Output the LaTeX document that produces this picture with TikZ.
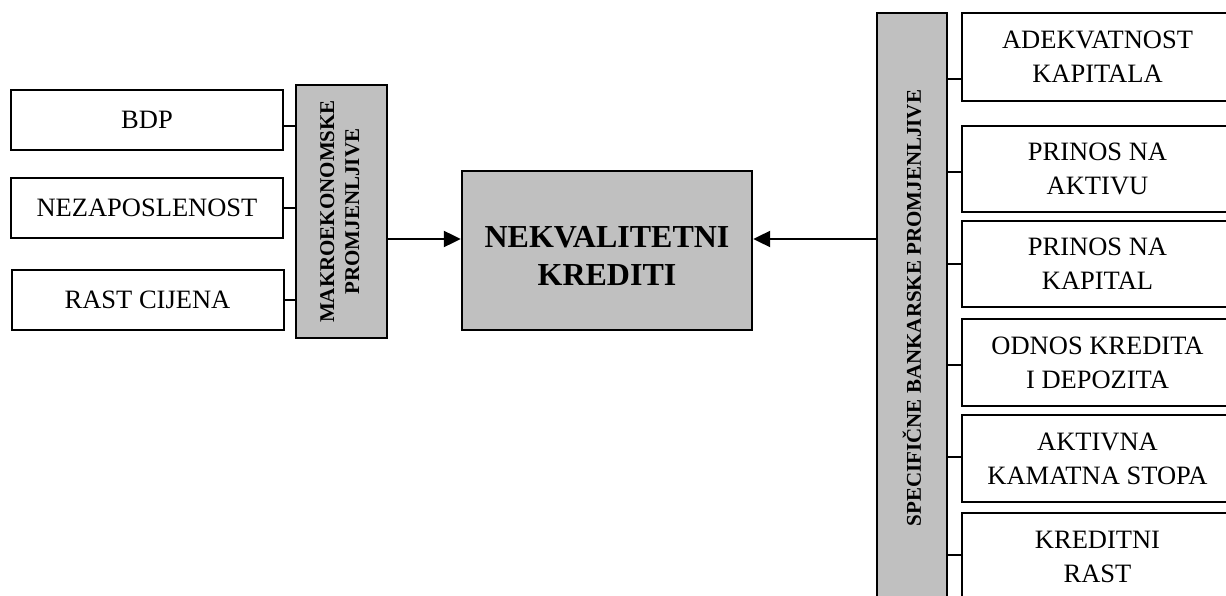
\documentclass[tikz,border=0pt]{standalone}
\usepackage{fontspec}
\setmainfont{Liberation Serif}
\usetikzlibrary{arrows.meta,calc}
\definecolor{boxgray}{HTML}{C0C0C0}
\begin{document}
\begin{tikzpicture}[x=1pt,y=-1pt,
  box/.style={draw=black,line width=2pt,fill=white,align=center,inner sep=0pt,
    font=\fontsize{26.5}{34}\selectfont},
  lbox/.style={box,minimum width=272pt,minimum height=60pt},
  rbox/.style={box,minimum width=271pt,execute at begin node={\rule{0pt}{23.5pt}}},
  graybox/.style={draw=black,line width=2pt,fill=boxgray,inner sep=0pt,align=center},
  stub/.style={line width=2pt},
  arr/.style={line width=2.2pt,-{Triangle[length=17pt,width=16pt]}}]
\useasboundingbox (0,0) rectangle (1226,596);
\clip (0,0) rectangle (1226,596);
\fill[white] (0,0) rectangle (1226,596);

% left boxes
\node[lbox] (bdp) at (147,120) {BDP};
\node[lbox] (nez) at (147,208) {NEZAPOSLENOST};
\node[lbox] (rast) at (147.5,300) {RAST CIJENA};

% macro box
\node[graybox,minimum width=91pt,minimum height=253pt,
  font=\fontsize{21}{25}\selectfont\bfseries] (mac) at (341.5,211.5)
  {\rotatebox{90}{\begin{tabular}{@{}c@{}}MAKROEKONOMSKE\\PROMJENLJIVE\end{tabular}}};

% central box
\node[graybox,line width=2.4pt,minimum width=290pt,minimum height=159pt,
  font=\fontsize{32}{38}\selectfont\bfseries] (cen) at (607,250.5)
  {\rule{0pt}{33pt}NEKVALITETNI\\KREDITI};

% bank box
\node[graybox,minimum width=70pt,minimum height=590pt,
  font=\fontsize{21}{25}\selectfont\bfseries] (bank) at (912,308)
  {\rotatebox{90}{SPECIFIČNE BANKARSKE PROMJENLJIVE}};

% right boxes
\node[rbox,minimum height=88pt] (r1) at (1097.5,57) {ADEKVATNOST\\KAPITALA};
\node[rbox,minimum height=86pt] (r2) at (1097.5,169) {PRINOS NA\\AKTIVU};
\node[rbox,minimum height=86pt] (r3) at (1097.5,264) {PRINOS NA\\KAPITAL};
\node[rbox,minimum height=87pt] (r4) at (1097.5,362.5) {ODNOS KREDITA\\I DEPOZITA};
\node[rbox,minimum height=87pt] (r5) at (1097.5,458.5) {AKTIVNA\\KAMATNA STOPA};
\node[rbox,minimum height=87pt] (r6) at (1097.5,556.5) {KREDITNI\\RAST};

% left stubs
\coordinate (s1) at ($(bdp.east)+(0,6)$);
\coordinate (s2) at (nez.east);
\coordinate (s3) at (rast.east);
\foreach \s in {s1,s2,s3} \draw[stub] (\s) -- (\s -| mac.west);

% right stubs
\coordinate (t1) at ($(r1.west)+(0,22)$);
\coordinate (t2) at ($(r2.west)+(0,3)$);
\coordinate (t3) at (r3.west);
\coordinate (t4) at ($(r4.west)+(0,2.5)$);
\coordinate (t5) at ($(r5.west)+(0,-1.5)$);
\coordinate (t6) at ($(r6.west)+(0,-1.5)$);
\foreach \t in {t1,t2,t3,t4,t5,t6} \draw[stub] (\t) -- (\t -| bank.east);

% arrows
\coordinate (a1) at ($(mac.east)+(0,27.5)$);
\draw[arr] (a1) -- (a1 -| cen.west);
\coordinate (a2) at ($(bank.west)+(0,-69)$);
\draw[arr] (a2) -- (a2 -| cen.east);
\end{tikzpicture}
\end{document}
